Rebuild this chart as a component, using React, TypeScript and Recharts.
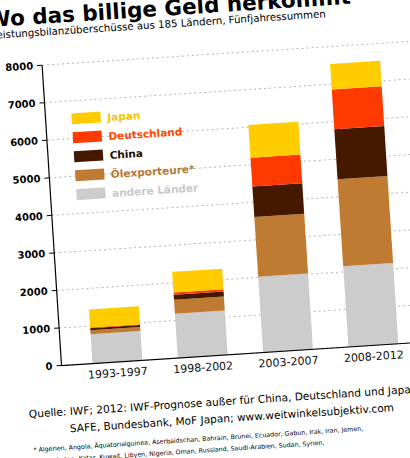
import React from "react";
import { BarChart, Bar, XAxis, YAxis, CartesianGrid, Legend } from "recharts";

const periods = ["1993-1997", "1998-2002", "2003-2007", "2008-2012"];
const andereLaender = [780, 1180, 2020, 2150];
const oelexporteure = [110, 370, 1590, 2320];
const china = [50, 135, 810, 1330];
const deutschland = [20, 60, 770, 1060];
const japan = [480, 550, 870, 675];
const yTicks = [0, 1000, 2000, 3000, 4000, 5000, 6000, 7000, 8000];
const legendOrder = ["Japan", "Deutschland", "China", "Ölexporteure*", "andere Länder"];

const data = periods.map((p, i) => ({
  period: p,
  andere: andereLaender[i],
  oel: oelexporteure[i],
  china: china[i],
  deutschland: deutschland[i],
  japan: japan[i],
}));

const FONT = "'DejaVu Sans', sans-serif";

const textColors: Record<string, string> = {
  Japan: "#f7c300",
  Deutschland: "#ff4a00",
  China: "#1a0d00",
  "Ölexporteure*": "#b97a36",
  "andere Länder": "#c9c9c9",
};

function LegendBox({ payload }: any) {
  const items = [...(payload || [])].sort(
    (a: any, b: any) => legendOrder.indexOf(a.value) - legendOrder.indexOf(b.value)
  );
  return (
    <div style={{ fontFamily: FONT }}>
      {items.map((it: any) => (
        <div key={it.value} style={{ display: "flex", alignItems: "center", height: 19 }}>
          <span style={{ width: 29, height: 11, background: it.color, display: "inline-block" }} />
          <span
            style={{
              marginLeft: 7,
              fontSize: 10.5,
              fontWeight: "bold",
              color: textColors[it.value] || "#000",
            }}
          >
            {it.value}
          </span>
        </div>
      ))}
    </div>
  );
}

export default function App() {
  return (
    <div
      style={{
        position: "absolute",
        left: 0,
        top: 0,
        width: 410,
        height: 458,
        overflow: "hidden",
        background: "#fff",
      }}
    >
      <div
        style={{
          position: "absolute",
          left: 0,
          top: 0,
          width: 410,
          height: 458,
          transform: "rotate(-3.7deg)",
          transformOrigin: "205px 229px",
        }}
      >
        <svg
          width={440}
          height={470}
          style={{ position: "absolute", left: 0, top: 0, overflow: "visible", fontFamily: FONT }}
        >
          <text x={1} y={13.5} fontSize={21.5} fontWeight="bold" fill="#000">
            Wo das billige Geld herkommt
          </text>
          <text x={4} y={25.5} fontSize={10.2} fill="#000">
            Leistungsbilanzüberschüsse aus 185 Ländern, Fünfjahressummen
          </text>
          <text x={17.3} y={406} fontSize={10.6} fill="#000">
            Quelle: IWF; 2012: IWF-Prognose außer für China, Deutschland und Japan:
          </text>
          <text x={57.2} y={423} fontSize={10.6} fill="#000">
            SAFE, Bundesbank, MoF Japan; www.weitwinkelsubjektiv.com
          </text>
          <text x={19.6} y={440.5} fontSize={6.3} fill="#000">
            * Algerien, Angola, Äquatorialguinea, Aserbaidschan, Bahrain, Brunei, Ecuador, Gabun, Irak, Iran, Jemen,
          </text>
          <text x={24} y={452} fontSize={6.3} fill="#000">
            Kasachstan, Katar, Kuwait, Libyen, Nigeria, Oman, Russland, Saudi-Arabien, Sudan, Syrien,
          </text>
        </svg>
        <div style={{ position: "absolute", left: 0.6, top: 0 }}>
          <BarChart
            width={440}
            height={410}
            data={data}
            margin={{ top: 55, right: 20, bottom: 24, left: 0 }}
            barSize={50}
          >
            <CartesianGrid vertical={false} stroke="#b5b5b5" strokeDasharray="2 3" />
            <XAxis
              dataKey="period"
              height={30}
              padding={{ left: 13, right: 13 }}
              axisLine={{ stroke: "#000", strokeWidth: 1.2 }}
              tickLine={false}
              tickSize={5}
              tickMargin={2}
              tick={{ fontSize: 11, fill: "#111", fontFamily: FONT }}
            />
            <YAxis
              width={52}
              domain={[0, 8000]}
              ticks={yTicks}
              interval={0}
              axisLine={{ stroke: "#000", strokeWidth: 1.2 }}
              tickLine={{ stroke: "#000" }}
              tickSize={5}
              tickMargin={4}
              tick={{ fontSize: 10, fill: "#000", fontWeight: "bold", fontFamily: FONT }}
            />
            <Legend
              layout="vertical"
              align="center"
              verticalAlign="middle"
              content={<LegendBox />}
              wrapperStyle={{ position: "absolute", left: 78, top: 101, width: 160 }}
            />
            <Bar dataKey="andere" name="andere Länder" stackId="a" fill="#cccccc" isAnimationActive={false} />
            <Bar dataKey="oel" name="Ölexporteure*" stackId="a" fill="#c07b32" isAnimationActive={false} />
            <Bar dataKey="china" name="China" stackId="a" fill="#441900" isAnimationActive={false} />
            <Bar dataKey="deutschland" name="Deutschland" stackId="a" fill="#ff3a00" isAnimationActive={false} />
            <Bar dataKey="japan" name="Japan" stackId="a" fill="#ffcc00" isAnimationActive={false} />
          </BarChart>
        </div>
      </div>
    </div>
  );
}
